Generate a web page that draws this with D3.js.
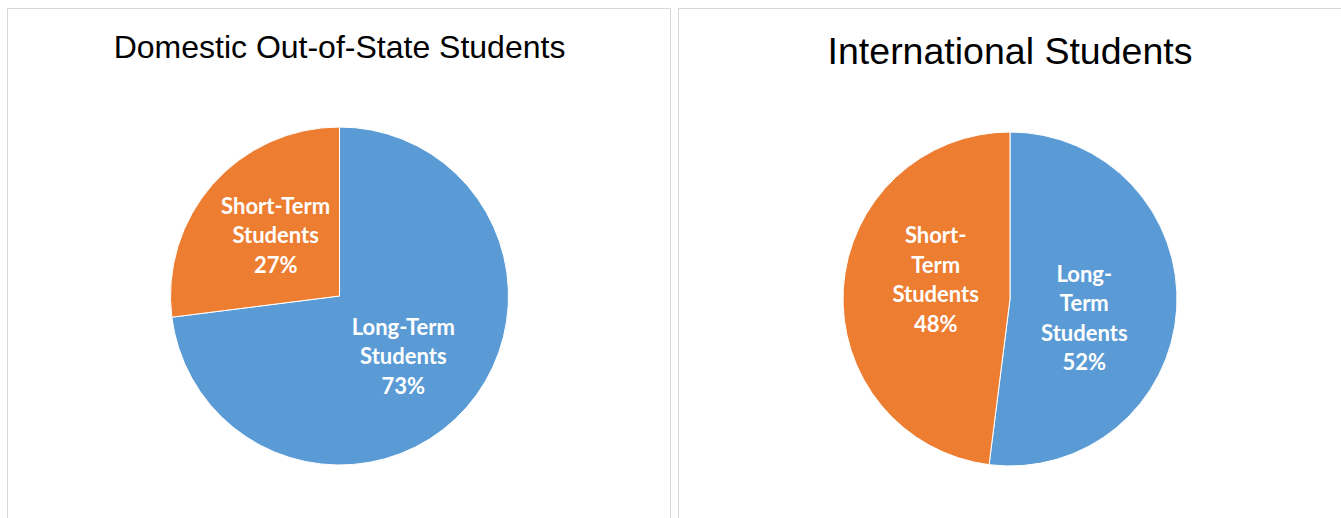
<!DOCTYPE html>
<html>
<head>
<meta charset="utf-8">
<script src="https://cdn.jsdelivr.net/npm/d3@7"></script>
<style>
  html, body { margin: 0; padding: 0; background: #fff; }
  svg { display: block; }
</style>
</head>
<body>
<svg id="chart" width="1341" height="518"></svg>
<script>
// ---- data ----
const categories = ["Long-Term Students", "Short-Term Students"];
const domesticValues = [73, 27];
const internationalValues = [52, 48];
const chartTitles = ["Domestic Out-of-State Students", "International Students"];
const sliceColors = ["#5B9BD5", "#ED7D31"];

// ---- layout ----
const svg = d3.select("#chart");
const panels = [
  { title: chartTitles[0], values: domesticValues, x0: 7.5, x1: 670.5, cx: 339.5, cy: 296, r: 169,
    titleSize: 32, titleY: 58, wrap: 135, labelK: 0.52, labelRot: 2 },
  { title: chartTitles[1], values: internationalValues, x0: 678.5, x1: 1400, cx: 1010, cy: 299, r: 167,
    titleSize: 37.5, titleY: 64, wrap: 96, labelK: 0.46, labelRot: 11 }
];

const color = d3.scaleOrdinal().domain(categories).range(sliceColors);

function wrapLines(textSel, str, maxW) {
  const tokens = str.match(/[^\s-]+-?|\s+/g).filter(t => t.trim().length);
  const lines = [];
  let cur = "";
  const probe = textSel.append("tspan");
  tokens.forEach(tok => {
    const sep = (cur === "" || cur.endsWith("-")) ? "" : " ";
    const cand = cur + sep + tok;
    probe.text(cand);
    if (cur !== "" && probe.node().getComputedTextLength() > maxW) {
      lines.push(cur);
      cur = tok;
    } else {
      cur = cand;
    }
  });
  if (cur) lines.push(cur);
  probe.remove();
  return lines;
}

panels.forEach(p => {
  const g = svg.append("g");
  g.append("rect")
    .attr("x", p.x0).attr("y", 8.5)
    .attr("width", p.x1 - p.x0).attr("height", 600)
    .attr("fill", "#fff").attr("stroke", "#d9d9d9").attr("stroke-width", 1);

  g.append("text")
    .attr("x", p.cx).attr("y", p.titleY)
    .attr("text-anchor", "middle")
    .attr("font-family", "'Liberation Sans', Arial, sans-serif")
    .attr("font-size", p.titleSize)
    .attr("fill", "#000")
    .text(p.title);

  const data = categories.map((c, i) => ({ cat: c, value: p.values[i] }));
  const pie = d3.pie().sort(null).value(d => d.value);
  const arcs = pie(data);
  const arc = d3.arc().innerRadius(0).outerRadius(p.r);

  const pg = g.append("g").attr("transform", `translate(${p.cx},${p.cy})`);
  pg.selectAll("path").data(arcs).join("path")
    .attr("d", arc)
    .attr("fill", d => color(d.data.cat))
    .attr("stroke", "#fff")
    .attr("stroke-width", 1);

  arcs.forEach(a => {
    const mid = (a.startAngle + a.endAngle) / 2 + p.labelRot * Math.PI / 180;
    const rr = p.r * p.labelK;
    const lx = rr * Math.sin(mid), ly = -rr * Math.cos(mid);
    const t = pg.append("text")
      .attr("text-anchor", "middle")
      .attr("font-family", "Lato, 'Open Sans', sans-serif")
      .attr("font-weight", "bold")
      .attr("font-size", 22)
      .attr("fill", "#fff");
    const lines = wrapLines(t, a.data.cat, p.wrap);
    lines.push(d3.format(".0%")(a.data.value / 100));
    const lh = 29.5;
    const y0 = ly - (lines.length - 1) * lh / 2;
    lines.forEach((ln, i) => {
      t.append("tspan")
        .attr("x", lx)
        .attr("y", y0 + i * lh)
        .attr("dy", "0.35em")
        .text(ln);
    });
  });
});
</script>
</body>
</html>
